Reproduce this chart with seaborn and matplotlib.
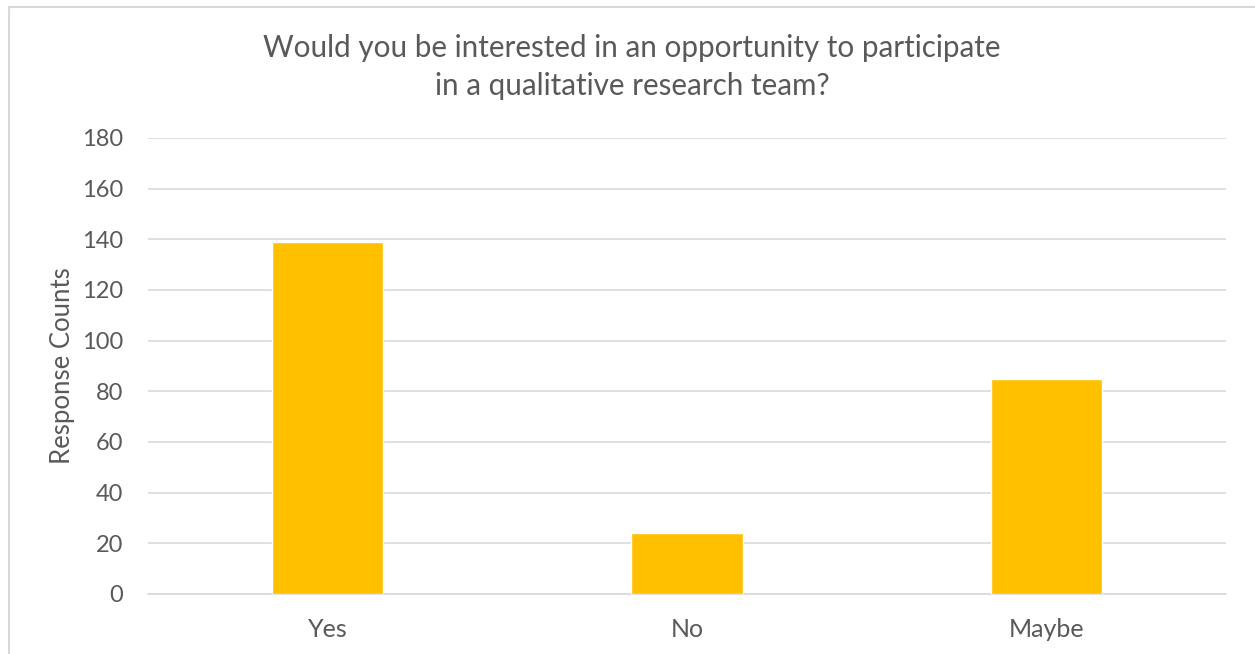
import matplotlib
matplotlib.use("Agg")
import matplotlib.pyplot as plt
import seaborn as sns
import pandas as pd
from matplotlib.lines import Line2D

categories = ["Yes", "No", "Maybe"]
counts = [139, 24, 85]
yticks = [0, 20, 40, 60, 80, 100, 120, 140, 160, 180]
title_lines = ["Would you be interested in an opportunity to participate",
               "in a qualitative research team?"]

sns.set_theme(style="white")
plt.rcParams['font.family'] = ['Lato', 'DejaVu Sans']

df = pd.DataFrame({"category": categories, "count": counts})

fig = plt.figure(figsize=(12.55, 6.54), dpi=100)
ax = fig.add_axes([148/1255, 1-594/654, (1226-148)/1255, (594-138)/654])

sns.barplot(data=df, x="category", y="count", color="#FFC000", saturation=1,
            width=0.31, ax=ax, zorder=3)

ax.set_ylim(0, 180)
ax.set_yticks(yticks)
ax.set_yticklabels([str(t) for t in yticks])
ax.set_xlim(-0.5, 2.5)
ax.yaxis.grid(True, color="#D9D9D9", linewidth=1.2, zorder=0)
ax.set_axisbelow(True)
for s in ["top", "right", "left"]:
    ax.spines[s].set_visible(False)
ax.spines["bottom"].set_color("#D9D9D9")
ax.spines["bottom"].set_linewidth(1.2)
ax.tick_params(axis="y", length=0, labelsize=17, colors="#595959", pad=18)
ax.tick_params(axis="x", length=0, labelsize=18, colors="#595959", pad=17)
ax.set_xlabel("")
ax.set_ylabel("Response Counts", fontsize=18.5, color="#595959", labelpad=5)

for line, ybase in zip(title_lines, [57, 95]):
    fig.text(632/1255, 1-ybase/654, line, ha="center", va="baseline",
             fontsize=21.3, color="#595959")

# figure border (top and left visible)
fig.add_artist(Line2D([8.5/1255, 8.5/1255], [0, 1-6.5/654], transform=fig.transFigure,
                      color="#D9D9D9", linewidth=1.5))
fig.add_artist(Line2D([8.5/1255, 1], [1-6.5/654, 1-6.5/654], transform=fig.transFigure,
                      color="#D9D9D9", linewidth=1.5))

fig.savefig("out.png", dpi=100, facecolor="white")
